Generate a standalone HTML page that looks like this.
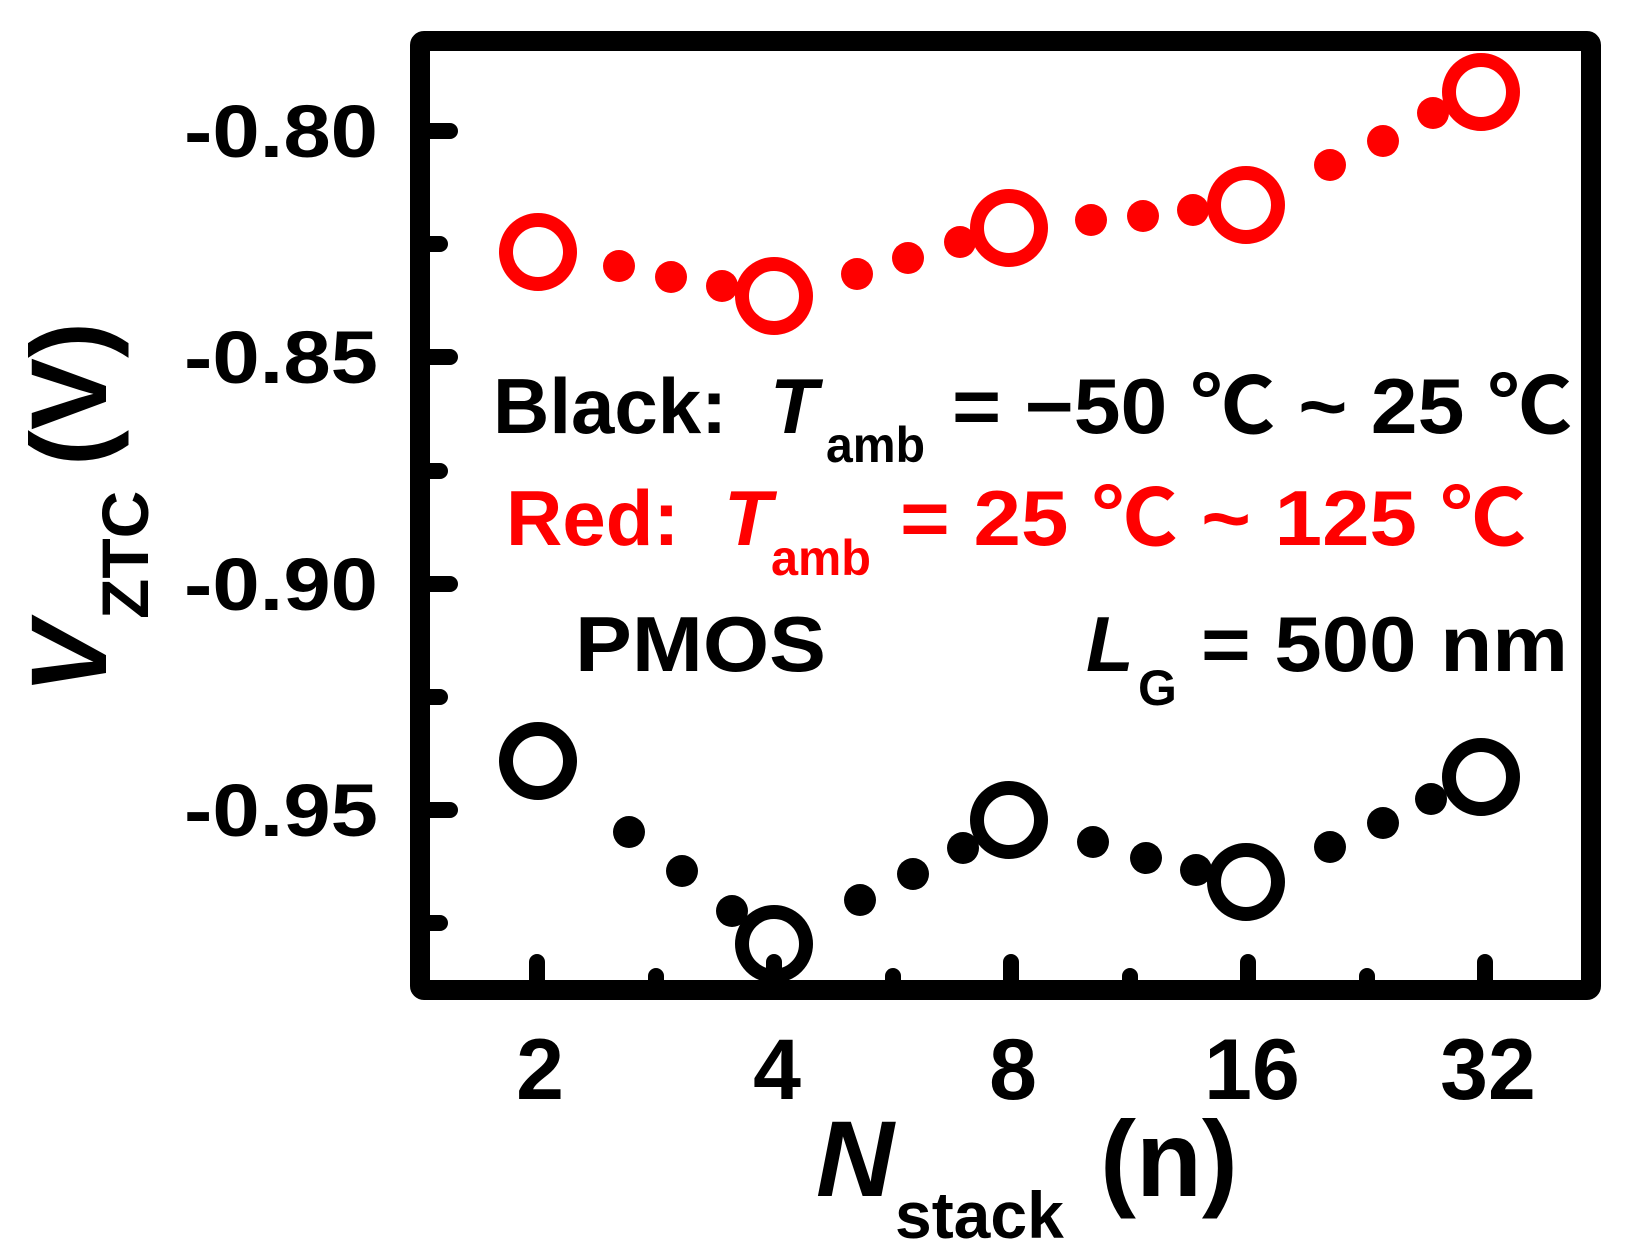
<!DOCTYPE html>
<html><head><style>body{margin:0;background:#fff}</style></head><body>
<svg width="1636" height="1251" xmlns="http://www.w3.org/2000/svg" font-family="Liberation Sans, Noto Sans CJK SC, sans-serif" font-weight="bold">
<g stroke="#000" stroke-linecap="round" stroke-width="20" fill="none">
<rect x="420" y="41" width="1171" height="949" rx="4"/>
</g>
<g stroke="#000" stroke-width="16" stroke-linecap="round">
<line x1="430" y1="131" x2="450" y2="131"/><line x1="430" y1="244" x2="440" y2="244"/>
<line x1="430" y1="357" x2="450" y2="357"/><line x1="430" y1="471" x2="440" y2="471"/>
<line x1="430" y1="584" x2="450" y2="584"/><line x1="430" y1="697" x2="440" y2="697"/>
<line x1="430" y1="810" x2="450" y2="810"/><line x1="430" y1="923" x2="440" y2="923"/>
<line x1="537" y1="980" x2="537" y2="962"/><line x1="774" y1="980" x2="774" y2="962"/>
<line x1="1011" y1="980" x2="1011" y2="962"/><line x1="1248" y1="980" x2="1248" y2="962"/>
<line x1="1485" y1="980" x2="1485" y2="962"/>
<line x1="656" y1="980" x2="656" y2="976"/><line x1="893" y1="980" x2="893" y2="976"/>
<line x1="1130" y1="980" x2="1130" y2="976"/><line x1="1367" y1="980" x2="1367" y2="976"/>
</g>
<g fill="#f00">
<circle cx="619" cy="266" r="16"/><circle cx="671" cy="277" r="16"/><circle cx="722" cy="286" r="16"/>
<circle cx="857" cy="274" r="16"/><circle cx="908" cy="258" r="16"/><circle cx="960" cy="242" r="16"/>
<circle cx="1091" cy="220" r="16"/><circle cx="1143" cy="216" r="16"/><circle cx="1193" cy="210" r="16"/>
<circle cx="1330" cy="165" r="16"/><circle cx="1383" cy="141" r="16"/><circle cx="1433" cy="113" r="16"/>
</g>
<g fill="none" stroke="#f00" stroke-width="14">
<circle cx="538" cy="252" r="32"/><circle cx="774" cy="296" r="32"/><circle cx="1009" cy="228" r="32"/>
<circle cx="1246" cy="205" r="32"/><circle cx="1481" cy="92" r="32"/>
</g>
<g fill="#000">
<circle cx="629" cy="832" r="16"/><circle cx="682" cy="871" r="16"/><circle cx="732" cy="911" r="16"/>
<circle cx="860" cy="900" r="16"/><circle cx="913" cy="874" r="16"/><circle cx="963" cy="848" r="16"/>
<circle cx="1093" cy="842" r="16"/><circle cx="1146" cy="858" r="16"/><circle cx="1196" cy="870" r="16"/>
<circle cx="1330" cy="847" r="16"/><circle cx="1383" cy="823" r="16"/><circle cx="1431" cy="799" r="16"/>
</g>
<g fill="none" stroke="#000" stroke-width="14">
<circle cx="538" cy="761" r="32"/><circle cx="774" cy="944" r="32"/><circle cx="1009" cy="820" r="32"/>
<circle cx="1246" cy="882" r="32"/><circle cx="1481" cy="777" r="32"/>
</g>
<g font-size="74" fill="#000">
<text x="184" y="157" textLength="194" lengthAdjust="spacingAndGlyphs">-0.80</text>
<text x="184" y="383" textLength="194" lengthAdjust="spacingAndGlyphs">-0.85</text>
<text x="184" y="610" textLength="194" lengthAdjust="spacingAndGlyphs">-0.90</text>
<text x="184" y="836" textLength="194" lengthAdjust="spacingAndGlyphs">-0.95</text>
</g>
<g font-size="86" text-anchor="middle" fill="#000">
<text x="540" y="1099">2</text><text x="777" y="1099">4</text><text x="1013" y="1099">8</text>
<text x="1252" y="1099">16</text><text x="1488" y="1099">32</text>
</g>
<text x="816" y="1196" font-size="108" font-style="italic" fill="#000">N</text>
<text x="895" y="1238" font-size="66" fill="#000">stack</text>
<text x="1100" y="1196" font-size="108" fill="#000">(n)</text>
<g transform="translate(106,694) rotate(-90)" fill="#000">
<text x="0" y="0" font-size="108" font-style="italic">V</text>
<text x="75" y="42" font-size="66">ZTC</text>
<text x="228" y="0" font-size="108">(V)</text>
</g>
<g font-size="78" fill="#000">
<text x="493" y="433">Black:</text>
<text x="770" y="433" font-style="italic">T</text>
<text x="826" y="462" font-size="50" textLength="99" lengthAdjust="spacingAndGlyphs">amb</text>
<text x="952" y="433" textLength="620" lengthAdjust="spacingAndGlyphs">= −50 ℃ ~ 25 ℃</text>
</g>
<g font-size="78" fill="#f00">
<text x="506" y="545">Red:</text>
<text x="724" y="545" font-style="italic">T</text>
<text x="771" y="575" font-size="50" textLength="100" lengthAdjust="spacingAndGlyphs">amb</text>
<text x="900" y="545" textLength="626" lengthAdjust="spacingAndGlyphs">= 25 ℃ ~ 125 ℃</text>
</g>
<g font-size="78" fill="#000">
<text x="575" y="671" textLength="251" lengthAdjust="spacingAndGlyphs">PMOS</text>
<text x="1086" y="671" font-style="italic">L</text>
<text x="1138" y="705" font-size="50">G</text>
<text x="1201" y="671" textLength="367" lengthAdjust="spacingAndGlyphs">= 500 nm</text>
</g>
</svg>
</body></html>
